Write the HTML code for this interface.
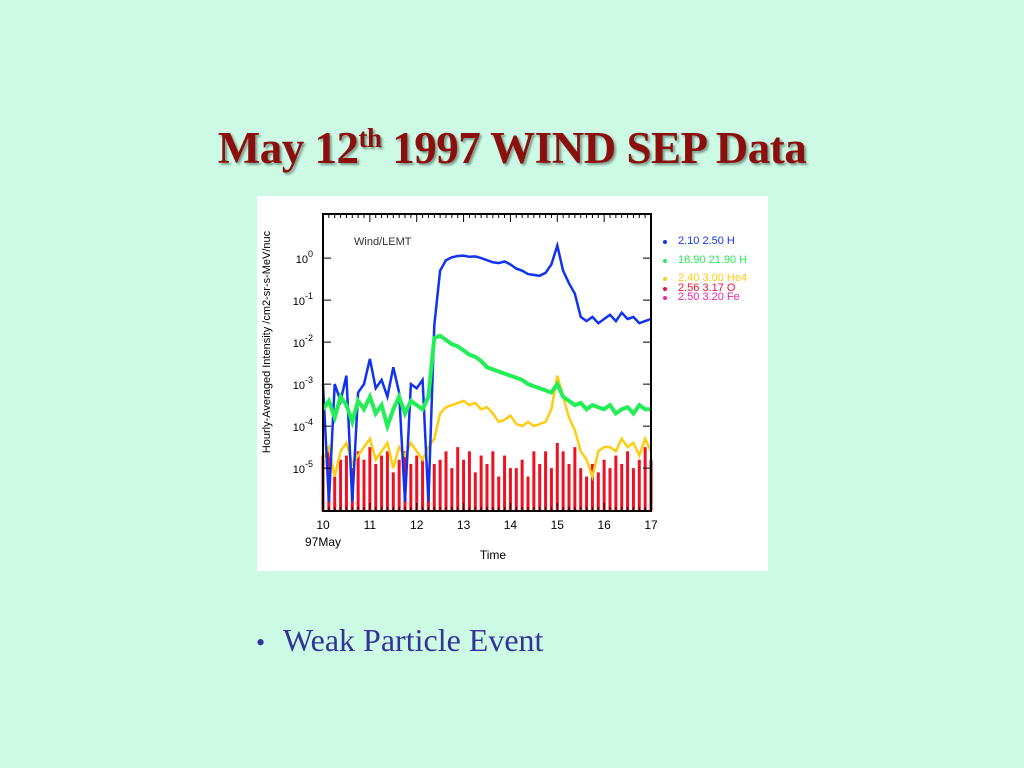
<!DOCTYPE html>
<html><head><meta charset="utf-8">
<style>
body{margin:0;width:1024px;height:768px;background:#ccfae4;font-family:"Liberation Serif",serif;overflow:hidden;position:relative}
#title{position:absolute;top:122px;left:0;width:1024px;text-align:center;font-size:45px;font-weight:bold;color:#8b0f0f;text-shadow:2px 2px 2px #7a9a8a;letter-spacing:-0.5px}
#title sup{font-size:27px}
#chartbox{position:absolute;left:257px;top:196px;width:511px;height:375px;background:#fff}
#bullet{position:absolute;left:256px;top:622px;font-size:32px;color:#333399}
#bullet span{display:inline-block;width:27px;font-size:26px}
</style></head><body>
<div id="title">May 12<sup>th</sup> 1997 WIND SEP Data</div>
<div id="chartbox">
<svg id="chart" width="511" height="375" font-family="Liberation Sans, sans-serif"></svg>
</div>
<div id="bullet"><span>•</span>Weak Particle Event</div>
<script>
const times=[];for(let i=0;i<=56;i++)times.push(10+i*0.125);
const xTicks=[10,11,12,13,14,15,16,17];
const yDecades=[0,-1,-2,-3,-4,-5];
const blueH=[-3.0,-5.8,-3.0,-3.4,-2.8,-5.8,-3.2,-3.0,-2.4,-3.1,-2.9,-3.3,-2.6,-3.2,-5.8,-3.0,-3.1,-2.9,-5.8,-1.6,-0.3,-0.05,0.02,0.05,0.06,0.03,0.04,0.0,-0.05,-0.1,-0.12,-0.08,-0.15,-0.25,-0.3,-0.38,-0.4,-0.42,-0.35,-0.15,0.3,-0.3,-0.6,-0.85,-1.4,-1.5,-1.4,-1.55,-1.45,-1.35,-1.5,-1.3,-1.45,-1.4,-1.55,-1.5,-1.45];
const greenH=[-3.6,-3.4,-3.8,-3.3,-3.5,-3.9,-3.4,-3.6,-3.3,-3.7,-3.5,-4.0,-3.6,-3.3,-3.7,-3.4,-3.5,-3.6,-3.3,-1.9,-1.85,-1.95,-2.05,-2.1,-2.2,-2.3,-2.35,-2.45,-2.6,-2.65,-2.7,-2.75,-2.8,-2.85,-2.9,-3.0,-3.05,-3.1,-3.15,-3.2,-3.0,-3.3,-3.4,-3.5,-3.45,-3.6,-3.5,-3.55,-3.6,-3.5,-3.7,-3.6,-3.55,-3.7,-3.5,-3.6,-3.6];
const yellowHe=[-4.8,-4.5,-5.2,-4.6,-4.4,-4.9,-4.7,-4.5,-4.3,-4.8,-4.6,-4.4,-5.0,-4.5,-4.7,-4.4,-4.6,-4.8,-4.5,-4.3,-3.7,-3.55,-3.5,-3.45,-3.4,-3.5,-3.45,-3.6,-3.55,-3.7,-3.9,-3.85,-3.75,-3.95,-4.0,-3.9,-4.0,-3.95,-3.9,-3.6,-2.8,-3.3,-3.8,-4.1,-4.6,-4.8,-5.2,-4.6,-4.5,-4.5,-4.6,-4.3,-4.5,-4.4,-4.7,-4.3,-4.6];
const redO=[-4.7,-4.6,-5.2,-4.8,-4.7,-5.0,-4.6,-4.8,-4.5,-4.9,-4.7,-4.6,-5.1,-4.8,-4.6,-4.9,-4.7,-4.8,-5.0,-4.9,-4.8,-4.6,-5.0,-4.5,-4.8,-4.6,-5.1,-4.7,-4.9,-4.6,-5.2,-4.7,-5.0,-5.0,-4.8,-5.2,-4.6,-4.9,-4.6,-5.0,-4.4,-4.6,-4.9,-4.5,-5.0,-5.2,-4.9,-5.1,-4.8,-5.0,-4.7,-4.9,-4.6,-5.0,-4.8,-4.5,-4.8];
const legendLabels=["2.10  2.50 H","18.90 21.90 H","2.40  3.00 He4","2.56  3.17 O","2.50  3.20 Fe"];
const legendColors=["#1133ee","#22ee55","#ffcc11","#ee1133","#ee22aa"];

const NS="http://www.w3.org/2000/svg",svg=document.getElementById('chart');
const L=66,R=394,T=18,B=315,xmin=10,xmax=17,ymax=1.05,ymin=-6.02;
const X=t=>L+(t-xmin)/(xmax-xmin)*(R-L);
const Y=v=>T+(ymax-v)/(ymax-ymin)*(B-T);
function mk(tag,a,parent){const e=document.createElementNS(NS,tag);for(const k in a)e.setAttribute(k,a[k]);(parent||svg).appendChild(e);return e;}
redO.forEach((v,i)=>{
 const e=mk('line',{x1:X(times[i]),x2:X(times[i]),y1:Y(v),y2:B,stroke:'#ee1122','stroke-width':3});
 
 
});
function series(vals,color,name,w){
 const pts=vals.map((v,i)=>X(times[i]).toFixed(1)+','+Y(v).toFixed(1)).join(' ');
 const e=mk('polyline',{points:pts,fill:'none',stroke:color,'stroke-width':w});
 
 
}
series(yellowHe,'#ffcc11','series-he4',2.5);
series(blueH,'#1133ee','series-h-low',2.5);
series(greenH,'#22ee55','series-h-high',4);
const fr=mk('rect',{x:L,y:T,width:R-L,height:B-T,fill:'none',stroke:'#000','stroke-width':2});


xTicks.forEach(t=>{
 mk('line',{x1:X(t),x2:X(t),y1:B,y2:B-8,stroke:'#000'});mk('line',{x1:X(t),x2:X(t),y1:T,y2:T+8,stroke:'#000'});
 for(let h=1;h<8&&t<17;h++){const xx=X(t+h/8);mk('line',{x1:xx,x2:xx,y1:B,y2:B-4,stroke:'#000'});mk('line',{x1:xx,x2:xx,y1:T,y2:T+4,stroke:'#000'});}
 const e=mk('text',{x:X(t),y:B+18,'font-size':12,'text-anchor':'middle'});e.textContent=t;
 
 
});
yDecades.forEach(d=>{
 mk('line',{x1:L,x2:L+8,y1:Y(d),y2:Y(d),stroke:'#000'});mk('line',{x1:R,x2:R-8,y1:Y(d),y2:Y(d),stroke:'#000'});
 const e=mk('text',{x:L-10,y:Y(d)+5,'font-size':11,'text-anchor':'end'});
 e.innerHTML='10<tspan dy="-6" font-size="9">'+d+'</tspan>';
 
 
});
function txt(s,a,name){const e=mk('text',a);e.textContent=s;return e;}
txt('97May',{x:48,y:350,'font-size':12},'x-date-label');
txt('Time',{x:236,y:363,'font-size':12,'text-anchor':'middle'},'x-axis-title');
txt('Wind/LEMT',{x:97,y:49,'font-size':11,fill:'#333'},'dataset-label');
txt('Hourly-Averaged Intensity /cm2-sr-s-MeV/nuc',{x:0,y:0,'font-size':11,'text-anchor':'middle',transform:'translate(13,146) rotate(-90)'},'y-axis-title');
const ly=[48,67,85,95,104];
legendLabels.forEach((s,i)=>{
 const m=mk('circle',{cx:408,cy:ly[i]-2,r:2,fill:legendColors[i]});
 
 
 txt(s,{x:421,y:ly[i],'font-size':11,fill:legendColors[i]},'legend-entry');
});
</script>
</body></html>
